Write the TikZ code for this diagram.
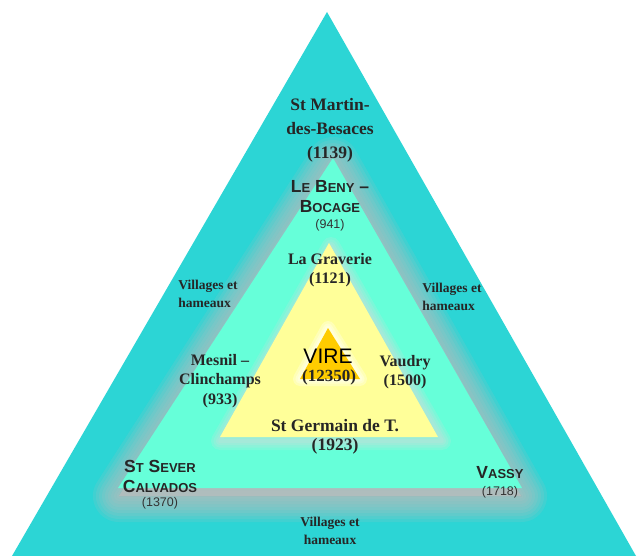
\documentclass[tikz,border=0pt]{standalone}
\usepackage{fontspec}
\setmainfont{Liberation Serif}
\newfontfamily\sansf{Liberation Sans}
\definecolor{turq}{HTML}{2CD5D5}
\definecolor{mint}{HTML}{66FFD9}
\definecolor{lyel}{HTML}{FFFF99}
\definecolor{gold}{HTML}{FFCC00}
\definecolor{glowgrey}{HTML}{BDBDBD}
\newcommand{\smc}[1]{{\fontsize{13}{13}\selectfont #1}}
\begin{document}
\begin{tikzpicture}[x=1pt,y=-1pt,
  lbl/.style={align=center, font=\bfseries\fontsize{16}{19.5}\selectfont, inner sep=0pt, text=black!85},
  big/.style={align=center, font=\bfseries\fontsize{17.5}{24}\selectfont, inner sep=0pt, text=black!85},
  sml/.style={align=center, font=\bfseries\fontsize{13.5}{18}\selectfont, inner sep=0pt, text=black!85},
  scl/.style={align=center, font=\sansf\bfseries\fontsize{17.5}{20}\selectfont, inner sep=0pt, text=black!85},
  num/.style={align=center, font=\sansf\fontsize{12.5}{13}\selectfont, inner sep=0pt, text=black!80},
  vire/.style={align=center, font=\sansf\fontsize{21}{21}\selectfont, inner sep=0pt}]
\useasboundingbox (0,0) rectangle (637,556);
\fill[white] (0,0) rectangle (637,556);
\begin{scope}
\clip (0,0) rectangle (637,556);
% outer triangle
\fill[turq] (327,12) -- (12,556) -- (636,556) -- cycle;
% glow round mint triangle
\foreach \w in {52,46,40,34,28,22,16,10,5}{
  \draw[glowgrey, line width=\w pt, opacity=0.14, line join=round, fill=glowgrey, fill opacity=0.14]
    (333,163) -- (119,496) -- (521,496) -- cycle;
}
\fill[mint] (333,158) -- (118,488) -- (522,488) -- cycle;
% glow round yellow triangle
\foreach \w in {18,13,8,4}{
  \draw[glowgrey!55, line width=\w pt, opacity=0.18, line join=round]
    (331,246) -- (220,441) -- (442,441) -- cycle;
}
\fill[lyel] (329,243) -- (220,437) -- (438,437) -- cycle;
% glow round gold triangle
\foreach \w in {14,9,5}{
  \draw[white, line width=\w pt, opacity=0.3, line join=round]
    (328,328) -- (300,379) -- (360,379) -- cycle;
}
\fill[gold] (328,328) -- (300,379) -- (360,379) -- cycle;
\end{scope}
% labels
\node[big] (martin) at (330,130) {St Martin-\\des-Besaces\\(1139)};
\node[scl] (beny) at (330,197) {L\smc{E} B\smc{ENY} –\\B\smc{OCAGE}};
\node[num] (benyn) at (330,225) {(941)};
\node[lbl] (grav) at (330,270) {La Graverie\\(1121)};
\node[sml, align=left] (villl) at (208,294) {Villages et\\hameaux};
\node[sml, align=left] (villr) at (452,297) {Villages et\\hameaux};
\node[lbl] (mesnil) at (220,381) {Mesnil –\\Clinchamps\\(933)};
\node[vire] (vire) at (328,356) {VIRE};
\node[lbl, font=\bfseries\fontsize{17}{19}\selectfont] (viren) at (329,377) {(12350)};
\node[lbl] (vaudry) at (405,372) {Vaudry\\(1500)};
\node[big, font=\bfseries\fontsize{17.5}{19.5}\selectfont] (germ) at (335,437) {St Germain de T.\\(1923)};
\node[scl] (sever) at (160,476) {S\smc{T} S\smc{EVER}\\C\smc{ALVADOS}};
\node[num] (severn) at (160,503) {(1370)};
\node[scl] (vassy) at (500,473) {V\smc{ASSY}};
\node[num] (vassyn) at (500,492) {(1718)};
\node[sml] (villb) at (330,531) {Villages et\\hameaux};
\end{tikzpicture}
\end{document}
